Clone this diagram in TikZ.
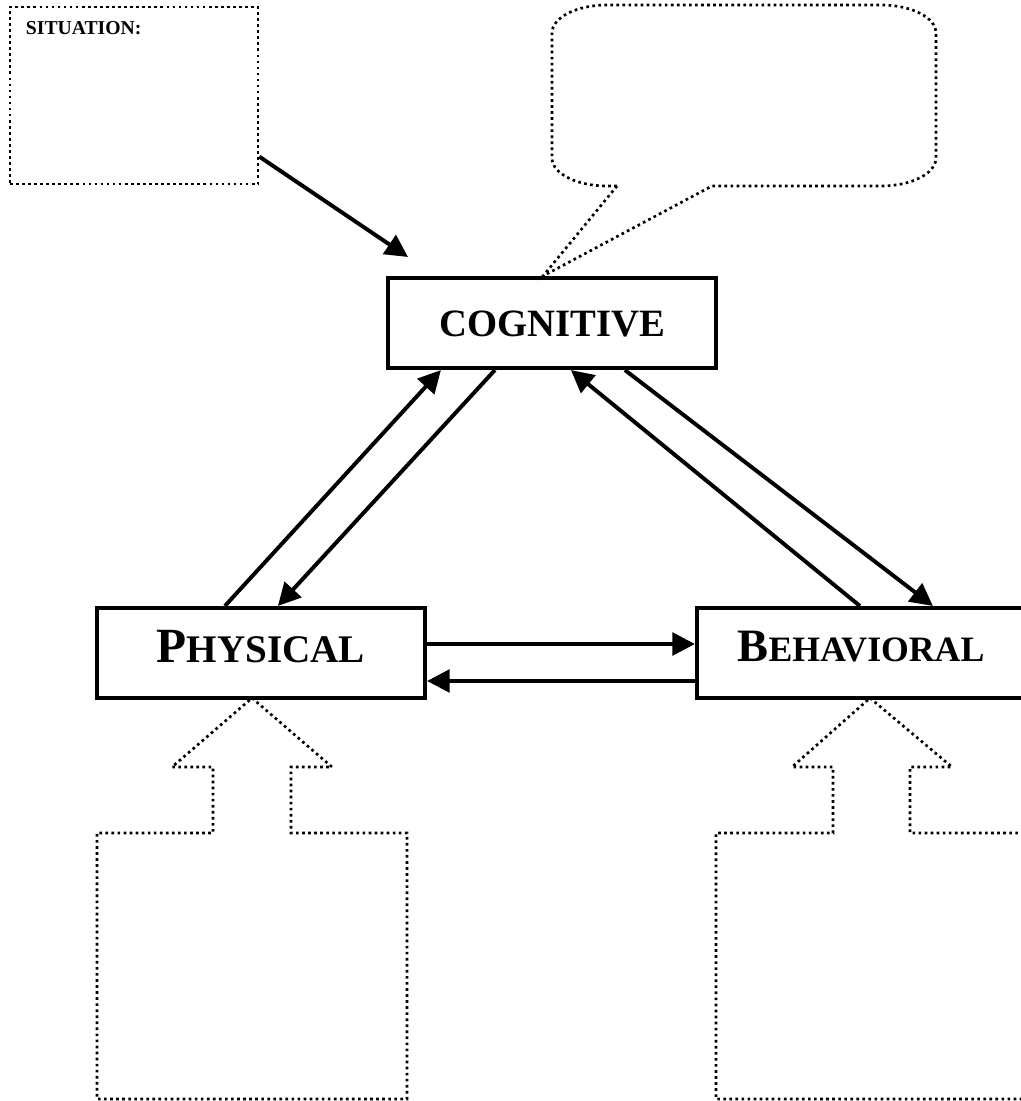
\documentclass[tikz,border=0pt]{standalone}
\usepackage{fontspec}
\setmainfont{Liberation Serif}
\usetikzlibrary{arrows.meta,calc}

\begin{document}
\begin{tikzpicture}[x=0.025cm, y=0.025cm,
  mainbox/.style={draw, line width=2.9pt, minimum width=8.2cm, minimum height=2.25cm, inner sep=0pt, font=\bfseries},
  link/.style={line width=2.8pt, -{Triangle[length=16pt,width=16pt]}},
  dotline/.style={line width=1.9pt, dash pattern=on 1.9pt off 2.4pt}]
\useasboundingbox (0,0) rectangle (1021,-1101);
\clip (0,0) rectangle (1021,-1101);
\node[draw, dotline, minimum width=6.2cm, minimum height=4.425cm] (situation) at (134,-95.5) {};
\node[anchor=north west, inner sep=0pt, font=\bfseries\fontsize{14}{16}\selectfont] (sitlabel) at ($(situation.north west)+(17,-16)$) {SITUATION:};
\node[mainbox, text height=19pt, text depth=0pt] (cognitive) at (552,-323) {\fontsize{27.5}{30}\selectfont COGNITIVE};
\node[mainbox, text height=23pt, text depth=10pt] (physical) at (261,-653) {\fontsize{35}{40}\selectfont P\fontsize{27.8}{30}\selectfont HYSICAL};
\node[mainbox, text height=22pt, text depth=10pt] (behavioral) at (861,-653) {\fontsize{33}{38}\selectfont B\fontsize{25.4}{30}\selectfont EHAVIORAL};
\coordinate (sitend) at (408,-257);
\draw[link] (situation.-26.7) -- (sitend);
\draw[dotline] (617,-186) -- (543,-276) -- (712,-186) -- (881,-186)
  arc[start angle=270, end angle=360, x radius=1.375cm, y radius=0.7cm] -- (936,-33)
  arc[start angle=0, end angle=90, x radius=1.375cm, y radius=0.7cm] -- (607,-5)
  arc[start angle=90, end angle=180, x radius=1.375cm, y radius=0.7cm] -- (552,-158)
  arc[start angle=180, end angle=270, x radius=1.375cm, y radius=0.7cm] -- cycle;
\draw[link] ($(physical.north west)+(130,0)$) -- ($(cognitive.south west)+(55,0)$);
\draw[link] ($(cognitive.south west)+(109,0)$) -- ($(physical.north west)+(183,0)$);
\draw[link] ($(behavioral.north west)+(165,0)$) -- ($(cognitive.south west)+(185,0)$);
\draw[link] ($(cognitive.south west)+(239,0)$) -- ($(behavioral.north west)+(238,0)$);
\draw[link] ($(physical.east)+(0,9)$) -- ($(behavioral.west)+(0,9)$);
\draw[link] ($(behavioral.west)+(0,-28)$) -- ($(physical.east)+(0,-28)$);
\draw[dotline] (252,-698) -- (332,-767) -- (291,-767) -- (291,-833) -- (407,-833) -- (407,-1099)
  -- (97,-1099) -- (97,-833) -- (213,-833) -- (213,-767) -- (172,-767) -- cycle;
\draw[dotline] (870,-698) -- (952,-767) -- (910,-767) -- (910,-833) -- (1040,-833) -- (1040,-1099)
  -- (716,-1099) -- (716,-833) -- (833,-833) -- (833,-767) -- (792,-767) -- cycle;
\end{tikzpicture}
\end{document}
